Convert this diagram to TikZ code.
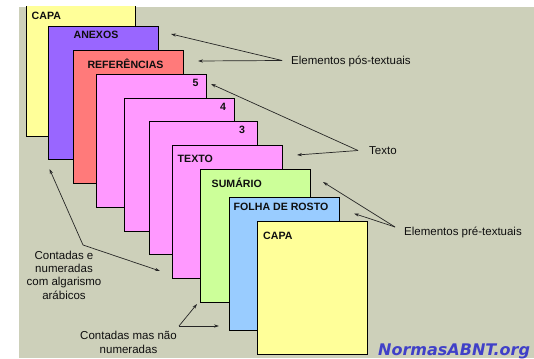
\documentclass[tikz,border=0pt]{standalone}
\usepackage{fontspec}
\setmainfont{Liberation Sans}
\newfontfamily\logofont{DejaVu Sans}
\usetikzlibrary{arrows.meta}
\definecolor{bg}{RGB}{205,208,186}
\definecolor{pyellow}{RGB}{255,255,153}
\definecolor{ppurple}{RGB}{153,102,255}
\definecolor{pred}{RGB}{255,122,122}
\definecolor{ppink}{RGB}{255,153,255}
\definecolor{pgreen}{RGB}{204,255,153}
\definecolor{pblue}{RGB}{153,204,255}
\definecolor{logoblue}{RGB}{64,64,200}
\definecolor{txt}{RGB}{15,15,15}
\begin{document}
\begin{tikzpicture}[x=1pt,y=-1pt,
  page/.style={draw=black, line width=0.8pt, anchor=north west, inner sep=0pt, outer sep=0pt, minimum width=110pt, minimum height=133pt},
  plabel/.style={font=\fontsize{10.6}{12}\selectfont\bfseries, text=txt, inner sep=0pt},
  note/.style={font=\fontsize{11.5}{13.3}\selectfont, text=txt, inner sep=0pt, align=center},
  arr/.style={draw=black!85, line width=0.7pt, -{Stealth[length=5pt,width=3.2pt]}}]
\useasboundingbox (0,0) rectangle (534,358);
\fill[bg] (19,7) rectangle (534,358);
% pages, back to front
\begin{scope}
\clip (19,7) rectangle (534,358);
\node[page, fill=pyellow, minimum width=109pt, minimum height=140pt] (capaA) at (26,-4) {};
\end{scope}
\node[page, fill=ppurple] (anexos) at (48,26) {};
\node[page, fill=pred] (refs) at (73,50) {};
\node[page, fill=ppink] (p5) at (96,74) {};
\node[page, fill=ppink] (p4) at (124,98) {};
\node[page, fill=ppink, minimum width=108pt] (p3) at (149,121) {};
\node[page, fill=ppink] (texto) at (172,145) {};
\node[page, fill=pgreen] (sum) at (200,169) {};
\node[page, fill=pblue] (folha) at (229,197) {};
\node[page, fill=pyellow] (capaB) at (257,221) {};
% page labels
\node[plabel, anchor=west] (tcapaA) at (31.5,16) {CAPA};
\node[plabel] (tanexos) at (96,35) {ANEXOS};
\node[plabel] (trefs) at (125.5,64) {REFERÊNCIAS};
\node[plabel] (t5) at (195.5,83) {5};
\node[plabel] (t4) at (223,107) {4};
\node[plabel] (t3) at (242,130) {3};
\node[plabel, anchor=west] (ttexto) at (177.5,159) {TEXTO};
\node[plabel, anchor=west] (tsum) at (211.5,183) {SUMÁRIO};
\node[plabel, anchor=west] (tfolha) at (233.5,207) {FOLHA DE ROSTO};
\node[plabel, anchor=west] (tcapaB) at (263,236) {CAPA};
% notes
\node[note, anchor=west] (pos) at (291,61) {Elementos pós-textuais};
\node[note, anchor=west] (textonote) at (369,151) {Texto};
\node[note, anchor=west] (pre) at (404,232) {Elementos pré-textuais};
\node[note] (cont) at (64,275) {Contadas e\\numeradas\\com algarismo\\arábicos};
\node[note] (naonum) at (128.5,342.5) {Contadas mas não\\numeradas};
\node[font=\logofont\fontsize{16}{17}\selectfont\bfseries\itshape, text=logoblue, anchor=base west, inner sep=0pt] (logo) at (378,355) {NormasABNT.org};
% arrow apexes and tips
\coordinate (aPos) at (282,60.5);
\coordinate (aTexto) at (358,150.5);
\coordinate (aPre) at (395,227);
\coordinate (aCont) at (83,245);
\coordinate (aNao) at (179,326);
\coordinate (ePos1) at (171,34);
\coordinate (ePos2) at (198,61);
\coordinate (eTex1) at (211,84);
\coordinate (eTex2) at (297,155);
\coordinate (ePre1) at (323,182);
\coordinate (ePre2) at (354,213.5);
\coordinate (eCont1) at (49.5,169);
\coordinate (eCont2) at (160,271);
\coordinate (eNao1) at (197,304);
\coordinate (eNao2) at (219,326);
\draw[arr] (aPos) -- (ePos1);
\draw[arr] (aPos) -- (ePos2);
\draw[arr] (aTexto) -- (eTex1);
\draw[arr] (aTexto) -- (eTex2);
\draw[arr] (aPre) -- (ePre1);
\draw[arr] (aPre) -- (ePre2);
\draw[arr] (aCont) -- (eCont1);
\draw[arr] (aCont) -- (eCont2);
\draw[arr] (aNao) -- (eNao1);
\draw[arr] (aNao) -- (eNao2);
\end{tikzpicture}
\end{document}
